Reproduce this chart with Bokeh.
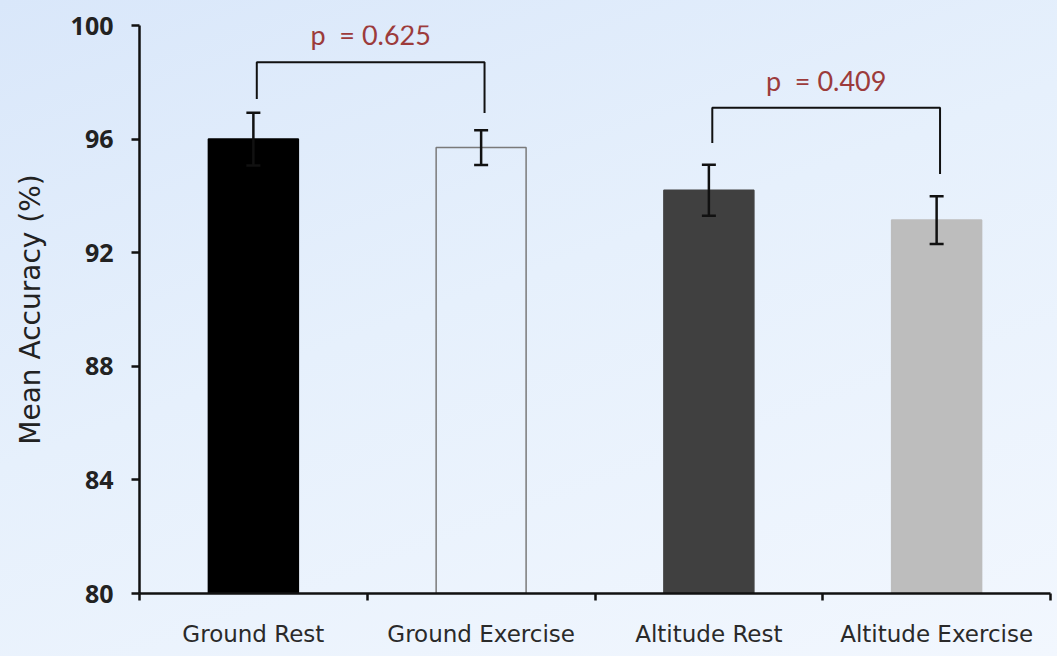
from bokeh.plotting import figure
from bokeh.models import ColumnDataSource, Whisker, FixedTicker, Label, Range1d, TeeHead
from bokeh.embed import file_html
from bokeh.resources import INLINE

# Mean task accuracy per condition with standard error
conditions = ["Ground Rest", "Ground Exercise", "Altitude Rest", "Altitude Exercise"]
mean_accuracy = [96.0, 95.7, 94.2, 93.15]
std_error = [0.93, 0.61, 0.9, 0.84]
y_ticks = [80, 84, 88, 92, 96, 100]

# Pairwise comparisons (indices into conditions) and their p-values
comparison_pairs = [(0, 1), (2, 3)]
p_values = ["0.625", "0.409"]
bracket_top = [98.71, 97.10]
bracket_left_foot = [97.41, 95.86]
bracket_right_foot = [96.92, 94.77]

bar_fill = ["#000000", "#ffffff", "#404040", "#bdbdbd"]
bar_fill_alpha = [1.0, 0.0, 1.0, 1.0]
bar_line = ["#000000", "#7a7a7a", "#404040", "#bdbdbd"]

x_pos = [i + 0.5 for i in range(len(conditions))]
src = ColumnDataSource(dict(
    x=x_pos,
    top=mean_accuracy,
    upper=[m + e for m, e in zip(mean_accuracy, std_error)],
    lower=[m - e for m, e in zip(mean_accuracy, std_error)],
    fill=bar_fill,
    alpha=bar_fill_alpha,
    line=bar_line,
))

p = figure(width=1057, height=656, output_backend="svg", toolbar_location=None,
           x_range=Range1d(0, 4), y_range=Range1d(80, 100),
           min_border_left=139, min_border_right=7, min_border_top=25, min_border_bottom=63)
p.background_fill_color = None
p.border_fill_color = None
p.outline_line_color = None
p.grid.visible = False
p.styles = {"background": "linear-gradient(160deg, #d9e7fa 0%, #e6f0fc 45%, #f2f7fe 100%)"}

p.vbar(x="x", top="top", bottom=80, width=0.395, source=src,
       fill_color="fill", fill_alpha="alpha", line_color="line", line_width=1.5)

p.add_layout(Whisker(source=src, base="x", upper="upper", lower="lower", level="annotation",
                     line_color="#111111", line_width=2.5,
                     upper_head=TeeHead(size=14, line_color="#111111", line_width=2.5),
                     lower_head=TeeHead(size=14, line_color="#111111", line_width=2.5)))

# Significance brackets with p-value labels
NBSP = "\u00a0"
xs, ys = [], []
for (a, b), top, lf, rf, pv in zip(comparison_pairs, bracket_top, bracket_left_foot,
                                   bracket_right_foot, p_values):
    xa, xb = x_pos[a] + 0.015, x_pos[b] + 0.015
    xs.append([xa, xa, xb, xb])
    ys.append([lf, top, top, rf])
    p.add_layout(Label(x=(xa + xb) / 2, y=top + 0.98, text=f"p{NBSP}{NBSP}= {pv}",
                       text_align="center", text_baseline="middle",
                       text_font="Lato", text_font_size="27px", text_color="#9c3b3b"))
p.multi_line(xs=xs, ys=ys, line_color="#111111", line_width=2)

# y axis
ya = p.yaxis[0]
ya.ticker = FixedTicker(ticks=y_ticks)
ya.axis_line_width = 2.5
ya.axis_line_color = "#111111"
ya.major_tick_line_width = 2.5
ya.major_tick_line_color = "#111111"
ya.major_tick_out = 8
ya.major_tick_in = 0
ya.minor_tick_line_color = None
ya.major_label_standoff = 18
ya.major_label_text_font = "Open Sans"
ya.major_label_text_font_style = "bold"
ya.major_label_text_font_size = "25px"
ya.major_label_text_color = "#222222"
ya.axis_label = "Mean Accuracy (%)"
ya.axis_label_text_font = "DejaVu Sans"
ya.axis_label_text_font_style = "normal"
ya.axis_label_text_font_size = "28px"
ya.axis_label_text_color = "#222222"
ya.axis_label_standoff = 21

# x axis: labels at bar centres, ticks at category boundaries
xa_ = p.xaxis[0]
xa_.ticker = FixedTicker(ticks=x_pos, minor_ticks=[0, 1, 2, 3, 4])
xa_.major_label_overrides = {x: c for x, c in zip(x_pos, conditions)}
xa_.axis_line_width = 2.5
xa_.axis_line_color = "#111111"
xa_.major_tick_out = 0
xa_.major_tick_in = 0
xa_.minor_tick_out = 7
xa_.minor_tick_in = 0
xa_.minor_tick_line_width = 2.5
xa_.minor_tick_line_color = "#111111"
xa_.major_label_standoff = 20
xa_.major_label_text_font = "DejaVu Sans"
xa_.major_label_text_font_size = "23px"
xa_.major_label_text_color = "#2a2a2a"

open("out.html", "w").write(file_html(p, INLINE))
